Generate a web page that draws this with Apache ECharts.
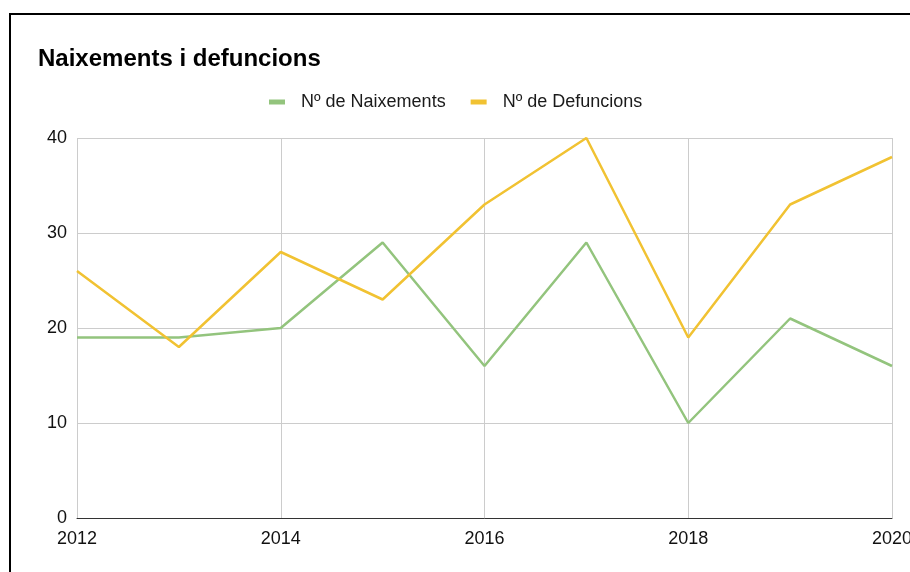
<!DOCTYPE html>
<html>
<head>
<meta charset="utf-8">
<script src="https://cdn.jsdelivr.net/npm/echarts@6/dist/echarts.min.js"></script>
<style>
  body { margin: 0; background: #fff; }
  #chart { width: 910px; height: 572px; }
</style>
</head>
<body>
<div id="chart"></div>
<script>
// dades
const years = [2012, 2013, 2014, 2015, 2016, 2017, 2018, 2019, 2020]
const naixements = [19, 19, 20, 29, 16, 29, 10, 21, 16]
const defuncions = [26, 18, 28, 23, 33, 40, 19, 33, 38]
const seriesNames = ['Nº de Naixements', 'Nº de Defuncions']

let chartDom = document.getElementById('chart')
let myChart = echarts.init(chartDom)

let pairs = (vals) => years.map((y, i) => [y, vals[i]])

let option = {
    animation: false,
    textStyle: { fontFamily: 'Liberation Sans, Arial, sans-serif' },
    title: {
        text: 'Naixements i defuncions',
        left: 33,
        top: 42,
        textStyle: { fontSize: 24, fontWeight: 'bold', color: '#000' }
    },
    legend: {
        top: 88,
        left: 264,
        itemWidth: 16,
        itemHeight: 5,
        itemGap: 25,
        icon: 'rect',
        textStyle: { fontSize: 18, color: '#1a1a1a', padding: [0, 0, 0, 11] },
        data: seriesNames
    },
    graphic: [{
        type: 'rect',
        shape: { x: 10, y: 14, width: 1000, height: 1000 },
        style: { fill: 'none', stroke: '#000', lineWidth: 2 },
        silent: true
    }],
    grid: { left: 77, right: 18, top: 138, bottom: 54, outerBoundsMode: 'none' },
    xAxis: {
        type: 'value',
        min: 2012,
        max: 2020,
        interval: 2,
        axisLine: { show: true, lineStyle: { color: '#333', width: 1 } },
        axisTick: { show: false },
        axisLabel: { color: '#111', fontSize: 18, margin: 12, formatter: (v) => String(v) },
        splitLine: { show: true, lineStyle: { color: '#ccc' } }
    },
    yAxis: {
        type: 'value',
        min: 0,
        max: 40,
        interval: 10,
        axisLine: { show: false },
        axisTick: { show: false },
        axisLabel: { color: '#111', fontSize: 18, margin: 10 },
        splitLine: { lineStyle: { color: '#ccc' } }
    },
    series: [{
        name: seriesNames[0],
        type: 'line',
        data: pairs(naixements),
        showSymbol: false,
        color: '#93c47d',
        lineStyle: { width: 2.5 }
    }, {
        name: seriesNames[1],
        type: 'line',
        data: pairs(defuncions),
        showSymbol: false,
        color: '#f1c232',
        lineStyle: { width: 2.5 }
    }]
}

option && myChart.setOption(option)
</script>
</body>
</html>
